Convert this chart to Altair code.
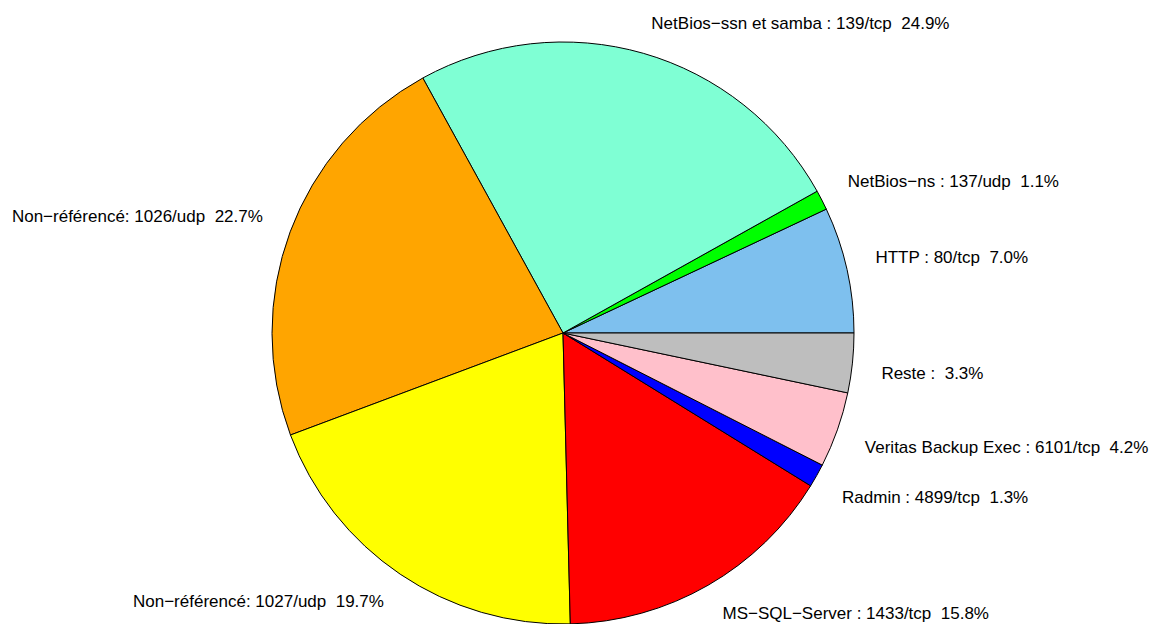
import math
import altair as alt
import pandas as pd

services = [
    "HTTP : 80/tcp",
    "NetBios\u2212ns : 137/udp",
    "NetBios\u2212ssn et samba : 139/tcp",
    "Non\u2212référencé: 1026/udp",
    "Non\u2212référencé: 1027/udp",
    "MS\u2212SQL\u2212Server : 1433/tcp",
    "Radmin : 4899/tcp",
    "Veritas Backup Exec : 6101/tcp",
    "Reste :",
]
percent = [7.0, 1.1, 24.9, 22.7, 19.7, 15.8, 1.3, 4.2, 3.3]
colors = ["#7EC0EE", "#00FF00", "#7FFFD4", "#FFA500", "#FFFF00",
          "#FF0000", "#0000FF", "#FFC0CB", "#BEBEBE"]

df = pd.DataFrame({"service": services, "pct": percent})
df["idx"] = range(len(df))
df["label"] = [f"{s} \u00a0{p:.1f}%" for s, p in zip(services, percent)]
mid = (df["pct"].cumsum() - df["pct"] / 2) / 100 * 2 * math.pi
df["side"] = [("left" if math.cos(m) < 0 else "right")
              + ("_h" if abs(math.cos(m)) > 0.7 else "_v")
              + ("_up" if math.sin(m) > 0 else "_down")
              for m in mid]

CX, CY, R = 555, 325, 291

base = alt.Chart(df).encode(
    theta=alt.Theta("pct:Q", stack=True,
                    scale=alt.Scale(range=[math.pi / 2, math.pi / 2 - 2 * math.pi])),
    order=alt.Order("idx:Q"),
    x=alt.value(CX),
    y=alt.value(CY),
)

arcs = base.mark_arc(radius=R, stroke="black", strokeWidth=1).encode(
    color=alt.Color("service:N", scale=alt.Scale(domain=services, range=colors),
                    legend=None)
)

txt_kw = dict(radius=R * 1.1, baseline="middle", fontSize=17,
              font="Liberation Sans", color="black")


def labels(sides, align, dy):
    cond = " || ".join(f"datum.side == '{s}'" for s in sides)
    return base.mark_text(align=align, dy=dy, **txt_kw).transform_calculate(
        t=f"({cond}) ? datum.label : ''"
    ).encode(text="t:N")


layers = [
    labels(["right_h_up", "left_h_up"], "left", -5),
    labels(["right_h_down"], "left", 8),
    labels(["right_v_up"], "left", -1),
    labels(["right_v_down"], "left", 3),
    labels(["left_h_up"], "right", -5),
    labels(["left_h_down"], "right", 8),
    labels(["left_v_up"], "right", -1),
    labels(["left_v_down"], "right", 4),
]
# first layer should only hold right-side labels
layers[0] = labels(["right_h_up"], "left", -5)

chart = alt.layer(arcs, *layers).properties(
    width=1142, height=616, padding=0, autosize="none"
).configure_view(stroke=None)

chart.save("out.html", embed_options={"renderer": "svg", "actions": False})
